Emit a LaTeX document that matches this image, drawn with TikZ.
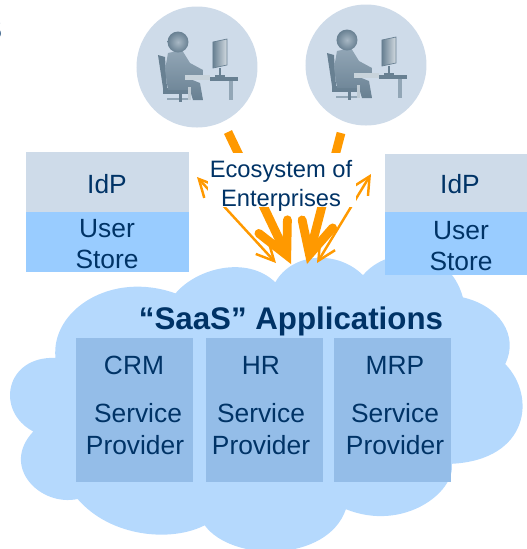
\documentclass[tikz,border=0pt]{standalone}
\usepackage{fontspec}
\setmainfont{Liberation Sans}
\usetikzlibrary{arrows.meta}

\definecolor{navytext}{RGB}{0,51,102}
\definecolor{cloudblue}{RGB}{181,217,253}
\definecolor{appblue}{RGB}{148,189,232}
\definecolor{idpgray}{RGB}{206,219,233}
\definecolor{storeblue}{RGB}{153,204,255}
\definecolor{flow}{RGB}{255,153,0}
\definecolor{figdark}{RGB}{104,128,146}
\definecolor{figmid}{RGB}{146,166,182}

\tikzset{
  lbl/.style={text=navytext,anchor=base,inner sep=0pt,font=\fontsize{15}{18}\selectfont},
  bigflow/.style={draw=flow,line width=5pt,-{Straight Barb[length=18pt,width=18pt,line cap=round,line join=miter]}},
  thinflow/.style={draw=flow,line width=1.4pt,{Straight Barb[length=10pt,width=10pt]}-{Straight Barb[length=10pt,width=10pt]}}
}

\newcommand{\pcuser}[2]{
\begin{scope}[shift={(#1,#2)}]
\fill[idpgray] (0,0) circle (60.5);
% chair
\fill[figdark] (-39,-12) -- (-32,-10) -- (-30,21) -- (-34,21) -- cycle;
\fill[figdark] (-34,21) rectangle (-4,27);
\fill[figmid] (-30,31) rectangle (-6,33);
\fill[figdark] (-18,27) rectangle (-15,35);
% person
\shade[top color=figmid,bottom color=figdark] (-29,-14) -- (-15,-17) -- (-7,-4) -- (6,3) -- (6,8) -- (-12,10) -- (3,16) -- (6,33) -- (-4,33) -- (-7,23) -- (-29,23) -- (-32,3) -- cycle;
\shade[inner color=figmid!80!white,outer color=figdark] (-19,-25) circle (10.5);
% desk
\fill[figmid!50!white] (-12,8) rectangle (13,13);
\fill[figdark] (13,10) rectangle (41,13.5);
\fill[figmid] (32,13.5) rectangle (36,33);
\fill[figmid!60!white] (-9,20) rectangle (-6,33);
% monitor
\shade[left color=figdark,right color=figmid!40!white,draw=figdark] (16,-25) -- (30,-28) -- (30,-2) -- (16,1) -- cycle;
\fill[figdark] (22.5,1) rectangle (24.5,8);
\fill[figdark] (18,8) rectangle (28,10);
\end{scope}
}

\begin{document}
\begin{tikzpicture}[x=0.02cm,y=-0.02cm]
\useasboundingbox (0,0) rectangle (527,549);
\clip (0,0) rectangle (527,549);

\node[text=navytext,anchor=base east,inner sep=0pt,font=\fontsize{24}{28}\selectfont\bfseries] (cuthead) at (3,40) {s};

\pcuser{197}{67}
\pcuser{366}{65}

% cloud
\fill[cloudblue] (175.5,293.4) .. controls (196.6,268.2) and (247,255) .. (275.3,282.3)
  .. controls (292.4,252) and (337.8,250) .. (363,275.2)
  .. controls (388.2,245) and (448.7,245) .. (462.9,297.4)
  .. controls (499.2,305.5) and (519.3,335.7) .. (505.2,364)
  .. controls (536.5,396.2) and (529.4,459.7) .. (451.8,463.8)
  .. controls (455.8,492) and (403.4,532.4) .. (345.9,509.2)
  .. controls (327.7,562.6) and (231.9,562.6) .. (204.7,525.3)
  .. controls (171.4,542.4) and (110.9,537.4) .. (77.6,499)
  .. controls (40.3,507) and (0,466.8) .. (33.3,431.5)
  .. controls (-5,411.3) and (5,355.9) .. (55.5,357.9)
  .. controls (50.4,310.5) and (110.9,270.2) .. (175.5,293.4) -- cycle;

% identity providers
\fill[idpgray] (26,152) rectangle (189,212);
\fill[storeblue] (26,212) rectangle (189,272);
\fill[idpgray] (385,154) rectangle (527,212);
\fill[storeblue] (385,212) rectangle (527,275);

\node[lbl] (idpl) at (107,193) {IdP};
\node[lbl] (userl) at (107,237) {User};
\node[lbl] (storel) at (107,268) {Store};
\node[lbl] (idpr) at (460,193) {IdP};
\node[lbl] (userr) at (461,239) {User};
\node[lbl] (storer) at (461,270) {Store};

% applications
\fill[appblue] (76,338) rectangle (193,481.5);
\fill[appblue] (206,338) rectangle (323,481.5);
\fill[appblue] (334,338) rectangle (451,481.5);

\node[lbl,font=\fontsize{17.8}{20}\selectfont\bfseries] (saas) at (291,329) {“SaaS” Applications};
\node[lbl] (crm) at (134,374) {CRM};
\node[lbl] (hr) at (261,374) {HR};
\node[lbl] (mrp) at (395,374) {MRP};
\node[lbl] (svc1) at (138,422) {Service};
\node[lbl] (svc2) at (261,422) {Service};
\node[lbl] (svc3) at (395,422) {Service};
\node[lbl] (prov1) at (135,454) {Provider};
\node[lbl] (prov2) at (261,454) {Provider};
\node[lbl] (prov3) at (395,454) {Provider};

% flows
\coordinate (deskl) at (228,132);
\coordinate (deskr) at (341,133);
\coordinate (cloudl) at (291,264);
\coordinate (cloudr) at (307,264);
\coordinate (edgel) at (197,177);
\coordinate (edger) at (371,174);
\coordinate (cloudtl) at (276,263);
\coordinate (cloudtr) at (317,263);

\draw[bigflow] (deskl) -- (cloudl);
\draw[bigflow] (deskr) -- (cloudr);
\draw[thinflow] (edgel) -- (cloudtl);
\draw[thinflow] (edger) -- (cloudtr);

\fill[white] (208,153) rectangle (356,207);
\node[lbl,font=\fontsize{13.5}{16}\selectfont] (eco1) at (281,177) {Ecosystem of};
\node[lbl,font=\fontsize{13.5}{16}\selectfont] (eco2) at (281,206) {Enterprises};
\end{tikzpicture}
\end{document}
